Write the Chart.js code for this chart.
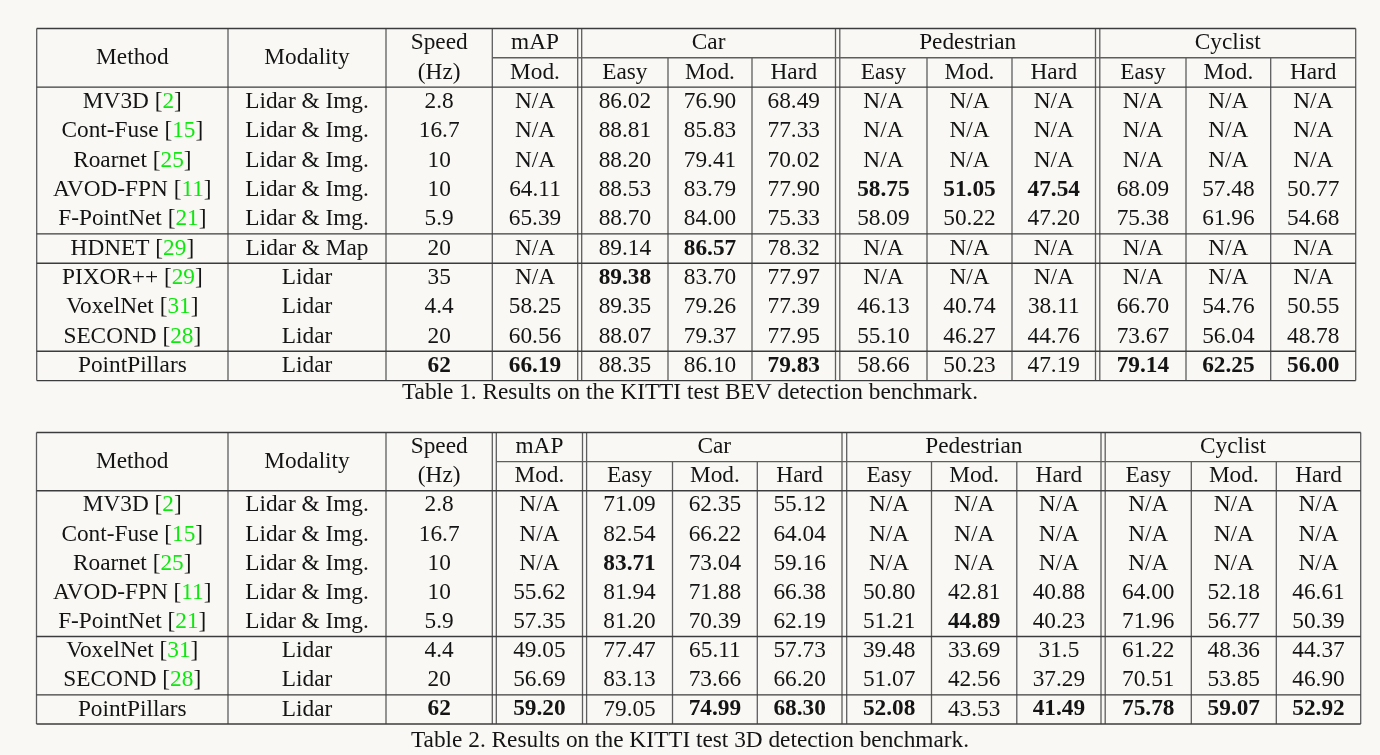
<!DOCTYPE html>
<html><head><meta charset="utf-8">
<script src="https://cdn.jsdelivr.net/npm/chart.js@4.4.0/dist/chart.umd.min.js"></script>
<style>html,body{margin:0;padding:0;background:#f9f8f4;overflow:hidden}canvas{display:block}</style>
</head><body>
<canvas id="c" width="1380" height="755" style="width:1380px;height:755px"></canvas>
<script>
// ---------- header labels ----------
const headLabels = ["Method", "Modality", "Speed", "(Hz)", "mAP", "Mod."];
const groupLabels = ["Car", "Pedestrian", "Cyclist"];
const levelLabels = ["Easy", "Mod.", "Hard"];
const captions = ["Table 1. Results on the KITTI test BEV detection benchmark.",
                  "Table 2. Results on the KITTI test 3D detection benchmark."];

// ---------- Table 1 (BEV) ----------
const t1Methods  = ["MV3D", "Cont-Fuse", "Roarnet", "AVOD-FPN", "F-PointNet", "HDNET", "PIXOR++", "VoxelNet", "SECOND", "PointPillars"];
const t1Refs     = ["2", "15", "25", "11", "21", "29", "29", "31", "28", ""];
const t1Modality = ["Lidar & Img.", "Lidar & Img.", "Lidar & Img.", "Lidar & Img.", "Lidar & Img.", "Lidar & Map", "Lidar", "Lidar", "Lidar", "Lidar"];
const t1Speed    = ["2.8", "16.7", "10", "10", "5.9", "20", "35", "4.4", "20", "62"];
const t1MapMod   = ["N/A", "N/A", "N/A", "64.11", "65.39", "N/A", "N/A", "58.25", "60.56", "66.19"];
const t1CarEasy  = ["86.02", "88.81", "88.20", "88.53", "88.70", "89.14", "89.38", "89.35", "88.07", "88.35"];
const t1CarMod   = ["76.90", "85.83", "79.41", "83.79", "84.00", "86.57", "83.70", "79.26", "79.37", "86.10"];
const t1CarHard  = ["68.49", "77.33", "70.02", "77.90", "75.33", "78.32", "77.97", "77.39", "77.95", "79.83"];
const t1PedEasy  = ["N/A", "N/A", "N/A", "58.75", "58.09", "N/A", "N/A", "46.13", "55.10", "58.66"];
const t1PedMod   = ["N/A", "N/A", "N/A", "51.05", "50.22", "N/A", "N/A", "40.74", "46.27", "50.23"];
const t1PedHard  = ["N/A", "N/A", "N/A", "47.54", "47.20", "N/A", "N/A", "38.11", "44.76", "47.19"];
const t1CycEasy  = ["N/A", "N/A", "N/A", "68.09", "75.38", "N/A", "N/A", "66.70", "73.67", "79.14"];
const t1CycMod   = ["N/A", "N/A", "N/A", "57.48", "61.96", "N/A", "N/A", "54.76", "56.04", "62.25"];
const t1CycHard  = ["N/A", "N/A", "N/A", "50.77", "54.68", "N/A", "N/A", "50.55", "48.78", "56.00"];
const t1Bold     = ["3:7", "3:8", "3:9", "5:5", "6:4", "9:2", "9:3", "9:6", "9:10", "9:11", "9:12"]; // row:column
const t1GroupEnds = [4, 5, 8]; // rule drawn after these rows

// ---------- Table 2 (3D) ----------
const t2Methods  = ["MV3D", "Cont-Fuse", "Roarnet", "AVOD-FPN", "F-PointNet", "VoxelNet", "SECOND", "PointPillars"];
const t2Refs     = ["2", "15", "25", "11", "21", "31", "28", ""];
const t2Modality = ["Lidar & Img.", "Lidar & Img.", "Lidar & Img.", "Lidar & Img.", "Lidar & Img.", "Lidar", "Lidar", "Lidar"];
const t2Speed    = ["2.8", "16.7", "10", "10", "5.9", "4.4", "20", "62"];
const t2MapMod   = ["N/A", "N/A", "N/A", "55.62", "57.35", "49.05", "56.69", "59.20"];
const t2CarEasy  = ["71.09", "82.54", "83.71", "81.94", "81.20", "77.47", "83.13", "79.05"];
const t2CarMod   = ["62.35", "66.22", "73.04", "71.88", "70.39", "65.11", "73.66", "74.99"];
const t2CarHard  = ["55.12", "64.04", "59.16", "66.38", "62.19", "57.73", "66.20", "68.30"];
const t2PedEasy  = ["N/A", "N/A", "N/A", "50.80", "51.21", "39.48", "51.07", "52.08"];
const t2PedMod   = ["N/A", "N/A", "N/A", "42.81", "44.89", "33.69", "42.56", "43.53"];
const t2PedHard  = ["N/A", "N/A", "N/A", "40.88", "40.23", "31.5", "37.29", "41.49"];
const t2CycEasy  = ["N/A", "N/A", "N/A", "64.00", "71.96", "61.22", "70.51", "75.78"];
const t2CycMod   = ["N/A", "N/A", "N/A", "52.18", "56.77", "48.36", "53.85", "59.07"];
const t2CycHard  = ["N/A", "N/A", "N/A", "46.61", "50.39", "44.37", "46.90", "52.92"];
const t2Bold     = ["2:4", "4:8", "7:2", "7:3", "7:5", "7:6", "7:7", "7:9", "7:10", "7:11", "7:12"];
const t2GroupEnds = [4, 6];

// ---------- layout (page units, mapped through the chart scales) ----------
const layout1 = { top: 28.4, bottom: 380.6, capY: 392.5, capX: 690,
  edges: [36.7, 228, 386, 492.3, [577.7, 581.7], 668, 752, [835.5, 839.8], 927, 1012, [1095.5, 1099.8], 1186, 1270.7, 1355.7] };
const layout2 = { top: 432.5, bottom: 724, capY: 741, capX: 690,
  edges: [36.5, 228, 386, [492.3, 496.3], [582.5, 586.6], 672.5, 757.3, [842, 846.7], 931.5, 1016.8, [1101, 1105.2], 1191.3, 1276.3, 1360.7] };
const spanEdges = [5, 6, 8, 9, 11, 12]; // verticals that start at the header middle rule

const TEXT = '#141414', REF = '#0fe80f', RULE_H = '#3c3c3c', RULE_V = '#5e5e5e';

function buildTable(L, cols, methods, refs, boldList, groupEnds, caption) {
  const nRows = methods.length + 2;
  const pitch = (L.bottom - L.top) / nRows;
  const rowY = r => L.top + (r + 0.5) * pitch;
  const bY = b => L.top + b * pitch;
  const left = e => Array.isArray(e) ? e[0] : e;
  const right = e => Array.isArray(e) ? e[1] : e;
  const cx = c => (right(L.edges[c]) + left(L.edges[c + 1])) / 2;
  const cells = [];
  // header
  cells.push({ x: cx(0), y: bY(1), text: headLabels[0] });
  cells.push({ x: cx(1), y: bY(1), text: headLabels[1] });
  cells.push({ x: cx(2), y: rowY(0), text: headLabels[2] });
  cells.push({ x: cx(2), y: rowY(1), text: headLabels[3] });
  cells.push({ x: cx(3), y: rowY(0), text: headLabels[4] });
  cells.push({ x: cx(3), y: rowY(1), text: headLabels[5] });
  groupLabels.forEach((g, gi) => {
    const c0 = 4 + gi * 3;
    cells.push({ x: (right(L.edges[c0]) + left(L.edges[c0 + 3])) / 2, y: rowY(0), text: g });
    levelLabels.forEach((lv, li) => cells.push({ x: cx(c0 + li), y: rowY(1), text: lv }));
  });
  // body
  const bold = new Set(boldList);
  methods.forEach((m, r) => {
    cells.push({ x: cx(0), y: rowY(r + 2), text: m, ref: refs[r], bold: bold.has(r + ':0') });
    cols.forEach((arr, ci) => {
      const c = ci + 1;
      cells.push({ x: cx(c), y: rowY(r + 2), text: arr[r], bold: bold.has(r + ':' + c) });
    });
  });
  cells.push({ x: L.capX, y: L.capY, text: caption });
  // rules
  const rules = [];
  const xL = left(L.edges[0]), xR = right(L.edges[L.edges.length - 1]);
  const hBounds = [0, 2, ...groupEnds.map(g => g + 3), nRows];
  hBounds.forEach(b => rules.push({ pts: [{ x: xL, y: bY(b) }, { x: xR, y: bY(b) }], color: RULE_H, w: b === 0 ? 1.5 : 1.4 }));
  rules.push({ pts: [{ x: right(L.edges[3]), y: bY(1) }, { x: xR, y: bY(1) }], color: RULE_V, w: 1.3 });
  L.edges.forEach((e, i) => {
    const xs = Array.isArray(e) ? e : [e];
    const yTop = spanEdges.includes(i) ? bY(1) : bY(0);
    xs.forEach(x => rules.push({ pts: [{ x, y: yTop }, { x, y: bY(nRows) }], color: RULE_V, w: 1.3 }));
  });
  return { cells, rules };
}

const T1 = buildTable(layout1,
  [t1Modality, t1Speed, t1MapMod, t1CarEasy, t1CarMod, t1CarHard, t1PedEasy, t1PedMod, t1PedHard, t1CycEasy, t1CycMod, t1CycHard],
  t1Methods, t1Refs, t1Bold, t1GroupEnds, captions[0]);
const T2 = buildTable(layout2,
  [t2Modality, t2Speed, t2MapMod, t2CarEasy, t2CarMod, t2CarHard, t2PedEasy, t2PedMod, t2PedHard, t2CycEasy, t2CycMod, t2CycHard],
  t2Methods, t2Refs, t2Bold, t2GroupEnds, captions[1]);

const datasets = [];
[T1, T2].forEach(T => {
  T.rules.forEach(r => datasets.push({ data: r.pts, showLine: true, borderColor: r.color, borderWidth: r.w,
    pointRadius: 0, pointHoverRadius: 0, clip: false, parsing: false }));
  datasets.push({ data: T.cells, isCells: true, pointRadius: 0, pointHoverRadius: 0, showLine: false, clip: false });
});

const FONT = '23.3px "Liberation Serif", "Times New Roman", serif';
const cellText = {
  id: 'cellText',
  afterDatasetsDraw(chart) {
    const ctx = chart.ctx;
    ctx.save();
    ctx.textBaseline = 'middle';
    ctx.textAlign = 'left';
    chart.data.datasets.forEach((ds, di) => {
      if (!ds.isCells) return;
      const meta = chart.getDatasetMeta(di);
      meta.data.forEach((el, i) => {
        const d = ds.data[i];
        ctx.font = (d.bold ? 'bold ' : '') + FONT;
        const parts = d.ref ? [[d.text + ' [', TEXT], [d.ref, REF], [']', TEXT]] : [[d.text, TEXT]];
        const total = parts.reduce((s, p) => s + ctx.measureText(p[0]).width, 0);
        let x = el.x - total / 2;
        parts.forEach(p => { ctx.fillStyle = p[1]; ctx.fillText(p[0], x, el.y); x += ctx.measureText(p[0]).width; });
      });
    });
    ctx.restore();
  }
};

new Chart(document.getElementById('c'), {
  type: 'scatter',
  data: { datasets },
  options: {
    responsive: false, animation: false, events: [],
    layout: { padding: 0 },
    scales: {
      x: { type: 'linear', min: 0, max: 1380, display: false },
      y: { type: 'linear', min: 0, max: 755, reverse: true, display: false }
    },
    plugins: { legend: { display: false }, tooltip: { enabled: false }, title: { display: false } }
  },
  plugins: [cellText]
});
</script></body></html>
